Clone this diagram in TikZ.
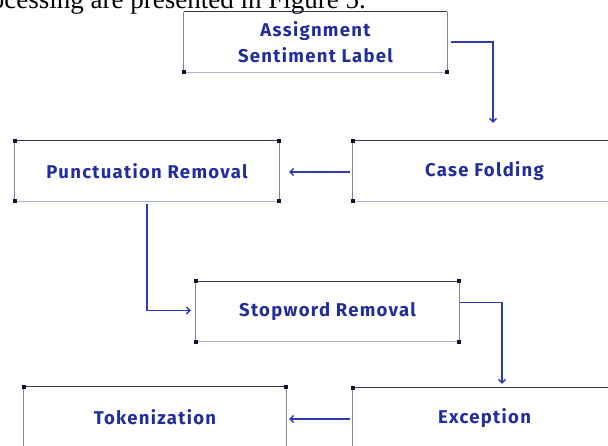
\documentclass[tikz,border=0pt]{standalone}
\usepackage{fontspec}
\setmainfont{Liberation Serif}
\newfontfamily\labelfont{Fira Sans}[LetterSpace=7]
\usetikzlibrary{arrows.meta,calc}

\definecolor{labelblue}{RGB}{34,46,158}
\definecolor{flowblue}{RGB}{44,60,176}
\definecolor{edgedark}{RGB}{55,55,90}
\definecolor{edgeside}{RGB}{130,130,160}
\definecolor{edgelight}{RGB}{178,178,198}
\definecolor{handlecol}{RGB}{18,18,45}

\tikzset{
  stagebox/.style={rectangle, minimum width=263pt, minimum height=60pt,
    inner sep=0pt, align=center, text=labelblue,
    font=\labelfont\bfseries\fontsize{18.5}{26.5}\selectfont},
  flow/.style={draw=flowblue, line width=1.6pt,
    -{Straight Barb[length=3.5pt,width=7pt,line width=1.4pt]}},
  handle/.style={fill=handlecol, draw=none, minimum size=4.2pt, inner sep=0pt},
  topedge/.style={draw=edgedark, line width=1.3pt},
  sideedge/.style={draw=edgeside, line width=1.3pt},
  botedge/.style={draw=edgelight, line width=1.3pt},
}

% frame of a stage: dark top, grey sides, light bottom
\newcommand\stageframe[1]{%
  \draw[sideedge] (#1.north west) -- (#1.south west);
  \draw[sideedge] (#1.north east) -- (#1.south east);
  \draw[botedge] (#1.south west) -- (#1.south east);
  \draw[topedge] (#1.north west) -- (#1.north east);
}

\begin{document}
\begin{tikzpicture}[x=1pt, y=-1pt]
  \useasboundingbox (0,0) rectangle (608,446);
  \clip (0,0) rectangle (608,446);

  % running text above the figure
  \node[anchor=base east, inner sep=0pt, font=\fontsize{27}{30}\selectfont]
    (caption) at (366,9) {processing are presented in Figure 5.};

  % stages
  \node[stagebox] (assign) at (315.5,42) {Assignment\\Sentiment Label};
  \node[stagebox, minimum width=264pt] (punct) at (147,171) {Punctuation Removal};
  \node[stagebox] (case) at (484.5,171) {Case Folding};
  \node[stagebox] (stop) at (327.5,311.5) {Stopword Removal};
  \node[stagebox, minimum width=262pt] (token) at (155,417) {Tokenization};
  \node[stagebox] (exc) at (484.5,418) {Exception};

  \foreach \s in {assign,punct,case,stop,token,exc} {\stageframe{\s}}

  % selection handles
  \foreach \c in {assign.south west, assign.south east,
                  punct.north west, punct.north east, punct.south west, punct.south east,
                  case.north west, case.south west,
                  stop.north west, stop.north east, stop.south west, stop.south east,
                  token.north west, token.north east,
                  exc.north west}
    \node[handle] at (\c) {};

  % flow between stages
  \draw[flow] ([xshift=4pt]assign.east) -| ([xshift=8.5pt,yshift=18pt]case.north);
  \draw[flow] ([xshift=-3pt,yshift=-1pt]case.west) -- ([xshift=10pt,yshift=-1pt]punct.east);
  \draw[flow] ([yshift=-3pt]punct.south) |- ([xshift=-5pt,yshift=1pt]stop.west);
  \draw[flow] ([xshift=1pt,yshift=9pt]stop.east) -| ([xshift=17.5pt,yshift=4pt]exc.north);
  \draw[flow] ([xshift=-3pt,yshift=-1pt]exc.west) -- ($(exc.west -| token.east)+(3,1)$);
\end{tikzpicture}
\end{document}
